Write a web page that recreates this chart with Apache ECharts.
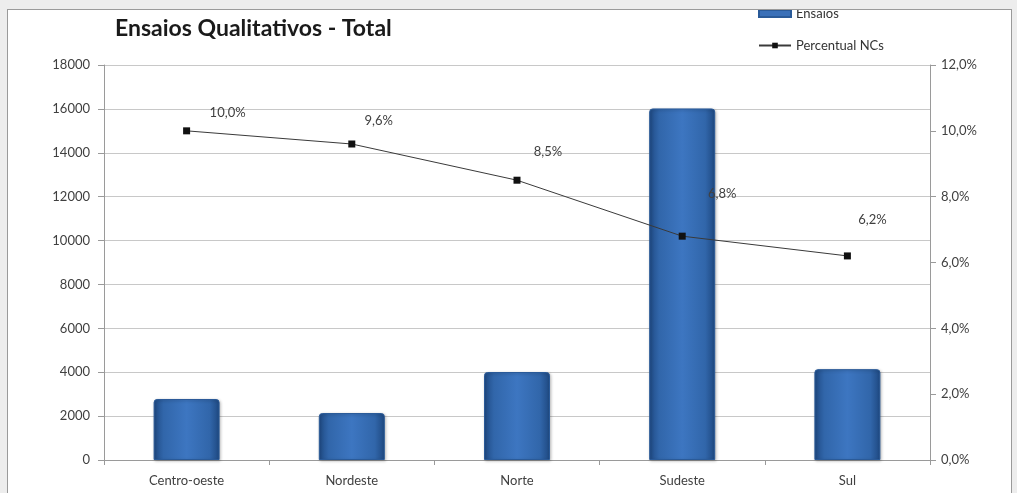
<!DOCTYPE html>
<html>
<head>
<meta charset="utf-8">
<script src="https://cdn.jsdelivr.net/npm/echarts@6/dist/echarts.min.js"></script>
<style>
  html, body { margin: 0; padding: 0; background: #ededed; }
  #panel {
    position: absolute; left: 7px; top: 9px; width: 1003px; height: 490px;
    border: 1px solid #9a9a9a; background: #ffffff; overflow: hidden;
  }
  #chart { position: absolute; left: 0; top: 0; width: 1003px; height: 484px; }
</style>
</head>
<body>
<div id="panel"><div id="chart"></div></div>
<script>
// Regions and totals
const regioes = ['Centro-oeste', 'Nordeste', 'Norte', 'Sudeste', 'Sul'];
const ensaios = [2780, 2140, 4010, 16020, 4140];
const percentualNCs = [10.0, 9.6, 8.5, 6.8, 6.2];

// Where each percentage label sits relative to its marker
const labelOffsets = [[41, -18], [27, -23], [31, -28], [40, -42], [25, -36]];

const fmtPct = v => v.toFixed(1).replace('.', ',') + '%';
const font = 'Lato, "Liberation Sans", sans-serif';

const barGradient = new echarts.graphic.LinearGradient(0, 0, 1, 0, [
  { offset: 0, color: '#1f4a84' },
  { offset: 0.15, color: '#3166aa' },
  { offset: 0.5, color: '#3d76c1' },
  { offset: 0.85, color: '#3166aa' },
  { offset: 1, color: '#1e4880' }
]);

const chart = echarts.init(document.getElementById('chart'), null, { renderer: 'canvas' });
chart.setOption({
  animation: false,
  backgroundColor: '#ffffff',
  title: {
    text: 'Ensaios Qualitativos - Total',
    left: 107, top: 7, padding: 0,
    textStyle: { fontFamily: font, fontSize: 23, fontWeight: 'bold', color: '#1a1a1a' }
  },
  legend: {
    orient: 'vertical',
    left: 750, top: -3, padding: 0,
    itemGap: 19,
    itemWidth: 32, itemHeight: 7,
    textStyle: { fontFamily: font, fontSize: 13, color: '#333333' },
    data: [
      { name: 'Ensaios', icon: 'rect', itemStyle: { color: '#3a70b8' } },
      { name: 'Percentual NCs' }
    ]
  },
  grid: { left: 96, right: 81, top: 55, bottom: 34 },
  xAxis: {
    type: 'category',
    data: regioes,
    axisLine: { lineStyle: { color: '#9a9a9a' } },
    axisTick: { show: true, length: 5, lineStyle: { color: '#9a9a9a' } },
    axisLabel: { fontFamily: font, fontSize: 13, color: '#404040', margin: 14 }
  },
  yAxis: [
    {
      type: 'value', min: 0, max: 18000, interval: 2000,
      axisLine: { show: true, lineStyle: { color: '#9a9a9a' } },
      axisTick: { show: true, length: 6, lineStyle: { color: '#9a9a9a' } },
      axisLabel: { fontFamily: font, fontSize: 13, color: '#404040', margin: 14, formatter: v => String(v) },
      splitLine: { lineStyle: { color: '#c8c8c8' } }
    },
    {
      type: 'value', min: 0, max: 12, interval: 2,
      axisLine: { show: true, lineStyle: { color: '#9a9a9a' } },
      axisTick: { show: true, length: 6, lineStyle: { color: '#9a9a9a' } },
      axisLabel: { fontFamily: font, fontSize: 13, color: '#404040', margin: 11, formatter: v => fmtPct(v) },
      splitLine: { show: false }
    }
  ],
  series: [
    {
      name: 'Ensaios',
      type: 'bar',
      yAxisIndex: 0,
      data: ensaios,
      barWidth: 66,
      itemStyle: {
        color: barGradient,
        borderColor: '#2a5a98', borderWidth: 1,
        borderRadius: [3, 3, 0, 0],
        shadowColor: 'rgba(0,0,0,0.25)', shadowBlur: 3, shadowOffsetX: 1, shadowOffsetY: 1
      }
    },
    {
      name: 'Percentual NCs',
      type: 'line',
      yAxisIndex: 1,
      data: percentualNCs.map((v, i) => ({
        value: v,
        label: { offset: labelOffsets[i] }
      })),
      symbol: 'rect',
      symbolSize: 7,
      lineStyle: { color: '#3a3a3a', width: 1 },
      itemStyle: { color: '#111111' },
      label: {
        show: true,
        position: 'inside',
        formatter: p => fmtPct(p.value),
        fontFamily: font, fontSize: 13, color: '#404040'
      },
      z: 5
    }
  ]
});
</script>
</body>
</html>
